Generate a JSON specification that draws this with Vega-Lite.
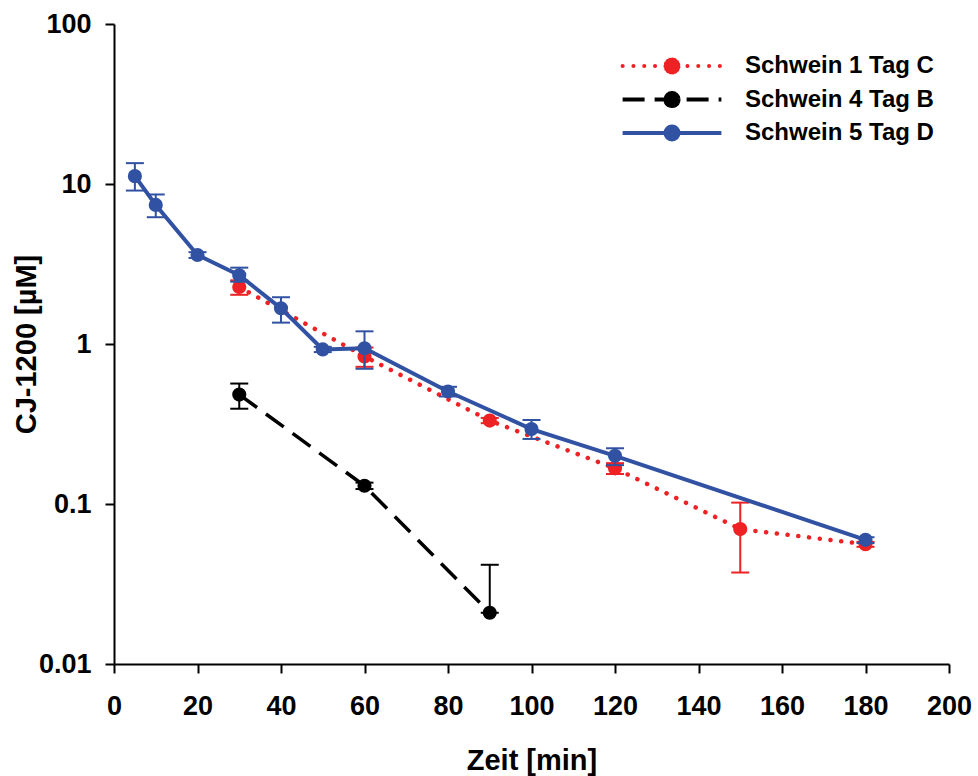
{
  "$schema": "https://vega.github.io/schema/vega-lite/v6.json",
  "width": 835,
  "height": 640,
  "autosize": {"type": "none"},
  "padding": {"left": 114, "top": 24, "right": 29, "bottom": 112},
  "background": "white",
  "config": {
    "view": {"stroke": null},
    "font": "Liberation Sans",
    "axis": {
      "grid": false,
      "domainColor": "black",
      "domainWidth": 2,
      "tickColor": "black",
      "tickWidth": 2,
      "tickSize": 9,
      "labelFlush": false,
      "labelFont": "Liberation Sans",
      "labelFontSize": 27,
      "labelFontWeight": "bold",
      "labelColor": "black",
      "titleFont": "Liberation Sans",
      "titleFontSize": 29,
      "titleFontWeight": "bold",
      "titleColor": "black"
    }
  },
  "data": {
    "values": [
      {"series": "Schwein 1 Tag C", "t": 30, "v": 2.27, "lo": 2.03, "hi": 2.5},
      {"series": "Schwein 1 Tag C", "t": 60, "v": 0.836, "lo": 0.72, "hi": 0.95},
      {"series": "Schwein 1 Tag C", "t": 90, "v": 0.332, "lo": 0.32, "hi": 0.345},
      {"series": "Schwein 1 Tag C", "t": 120, "v": 0.167, "lo": 0.154, "hi": 0.18},
      {"series": "Schwein 1 Tag C", "t": 150, "v": 0.0697, "lo": 0.0373, "hi": 0.102},
      {"series": "Schwein 1 Tag C", "t": 180, "v": 0.0561, "lo": 0.054, "hi": 0.058},
      {"series": "Schwein 4 Tag B", "t": 30, "v": 0.483, "lo": 0.394, "hi": 0.566},
      {"series": "Schwein 4 Tag B", "t": 60, "v": 0.13, "lo": 0.124, "hi": 0.136},
      {"series": "Schwein 4 Tag B", "t": 90, "v": 0.0209, "lo": 0.0209, "hi": 0.0417},
      {"series": "Schwein 5 Tag D", "t": 5, "v": 11.2, "lo": 9.1, "hi": 13.5},
      {"series": "Schwein 5 Tag D", "t": 10, "v": 7.4, "lo": 6.2, "hi": 8.6},
      {"series": "Schwein 5 Tag D", "t": 20, "v": 3.6, "lo": 3.45, "hi": 3.75},
      {"series": "Schwein 5 Tag D", "t": 30, "v": 2.69, "lo": 2.45, "hi": 3.0},
      {"series": "Schwein 5 Tag D", "t": 40, "v": 1.67, "lo": 1.36, "hi": 1.96},
      {"series": "Schwein 5 Tag D", "t": 50, "v": 0.925, "lo": 0.89, "hi": 0.96},
      {"series": "Schwein 5 Tag D", "t": 60, "v": 0.94, "lo": 0.7, "hi": 1.2},
      {"series": "Schwein 5 Tag D", "t": 80, "v": 0.505, "lo": 0.47, "hi": 0.54},
      {"series": "Schwein 5 Tag D", "t": 100, "v": 0.294, "lo": 0.255, "hi": 0.335},
      {"series": "Schwein 5 Tag D", "t": 120, "v": 0.2, "lo": 0.175, "hi": 0.223},
      {"series": "Schwein 5 Tag D", "t": 180, "v": 0.0597, "lo": 0.057, "hi": 0.062}
    ]
  },
  "encoding": {
    "x": {
      "field": "t",
      "type": "quantitative",
      "scale": {"domain": [0, 200], "nice": false},
      "axis": {
        "values": [0, 20, 40, 60, 80, 100, 120, 140, 160, 180, 200],
        "title": "Zeit [min]",
        "labelPadding": 20,
        "titlePadding": 27
      }
    },
    "color": {
      "field": "series",
      "type": "nominal",
      "scale": {
        "domain": ["Schwein 1 Tag C", "Schwein 4 Tag B", "Schwein 5 Tag D"],
        "range": ["#EE2224", "#000000", "#3152A3"]
      },
      "legend": {
        "orient": "none",
        "legendX": 546,
        "legendY": 30,
        "title": null,
        "padding": 0,
        "symbolType": "M-7.6,0L7.6,0M-1,0A1,1,0,1,1,1,0A1,1,0,1,1,-1,0A1,1,0,1,1,1,0A1,1,0,1,1,-1,0A1,1,0,1,1,1,0A1,1,0,1,1,-1,0A1,1,0,1,1,1,0A1,1,0,1,1,-1,0A1,1,0,1,1,1,0A1,1,0,1,1,-1,0A1,1,0,1,1,1,0A1,1,0,1,1,-1,0Z",
        "symbolSize": 169,
        "symbolStrokeWidth": 4,
        "labelFont": "Liberation Sans",
        "labelFontSize": 24,
        "labelFontWeight": "bold",
        "labelColor": "black",
        "labelLimit": 0,
        "labelOffset": 61,
        "rowPadding": 3.5,
        "encode": {
          "symbols": {
            "update": {
              "fill": {"scale": "color", "field": "value"},
              "stroke": {"scale": "color", "field": "value"},
              "opacity": {"value": 1},
              "fillOpacity": {"value": 1},
              "strokeOpacity": {"value": 1},
              "strokeDash": {"signal": "datum.value === 'Schwein 1 Tag C' ? [0.1, 10.7] : datum.value === 'Schwein 4 Tag B' ? [22, 10] : [2000, 1]"},
              "strokeCap": {"signal": "datum.value === 'Schwein 1 Tag C' ? 'round' : 'butt'"}
            }
          }
        }
      }
    }
  },
  "layer": [
    {
      "transform": [{"filter": "datum.series === 'Schwein 1 Tag C'"}],
      "mark": {"type": "line", "strokeWidth": 4.5, "strokeDash": [0.1, 10.7], "strokeCap": "round"},
      "encoding": {
        "y": {
          "field": "v",
          "type": "quantitative",
          "scale": {"type": "log", "domain": [0.01, 100], "nice": false},
          "axis": {
            "values": [0.01, 0.1, 1, 10, 100],
            "format": "~g",
            "title": "CJ-1200 [µM]",
            "labelPadding": 14,
            "titlePadding": -3
          }
        }
      }
    },
    {
      "transform": [{"filter": "datum.series === 'Schwein 1 Tag C'"}],
      "mark": {"type": "rule", "strokeWidth": 2},
      "encoding": {"y": {"field": "lo", "type": "quantitative"}, "y2": {"field": "hi"}}
    },
    {
      "transform": [{"filter": "datum.series === 'Schwein 1 Tag C'"}],
      "mark": {"type": "tick", "orient": "horizontal", "size": 18, "thickness": 2, "opacity": 1},
      "encoding": {"y": {"field": "lo", "type": "quantitative"}}
    },
    {
      "transform": [{"filter": "datum.series === 'Schwein 1 Tag C'"}],
      "mark": {"type": "tick", "orient": "horizontal", "size": 18, "thickness": 2, "opacity": 1},
      "encoding": {"y": {"field": "hi", "type": "quantitative"}}
    },
    {
      "transform": [{"filter": "datum.series === 'Schwein 1 Tag C'"}],
      "mark": {"type": "point", "filled": true, "size": 200, "opacity": 1, "shape": "circle"},
      "encoding": {"y": {"field": "v", "type": "quantitative"}}
    },
    {
      "transform": [{"filter": "datum.series === 'Schwein 4 Tag B'"}],
      "mark": {"type": "line", "strokeWidth": 3.5, "strokeDash": [22, 11]},
      "encoding": {"y": {"field": "v", "type": "quantitative"}}
    },
    {
      "transform": [{"filter": "datum.series === 'Schwein 4 Tag B'"}],
      "mark": {"type": "rule", "strokeWidth": 2},
      "encoding": {"y": {"field": "lo", "type": "quantitative"}, "y2": {"field": "hi"}}
    },
    {
      "transform": [{"filter": "datum.series === 'Schwein 4 Tag B'"}],
      "mark": {"type": "tick", "orient": "horizontal", "size": 18, "thickness": 2, "opacity": 1},
      "encoding": {"y": {"field": "lo", "type": "quantitative"}}
    },
    {
      "transform": [{"filter": "datum.series === 'Schwein 4 Tag B'"}],
      "mark": {"type": "tick", "orient": "horizontal", "size": 18, "thickness": 2, "opacity": 1},
      "encoding": {"y": {"field": "hi", "type": "quantitative"}}
    },
    {
      "transform": [{"filter": "datum.series === 'Schwein 4 Tag B'"}],
      "mark": {"type": "point", "filled": true, "size": 200, "opacity": 1, "shape": "circle"},
      "encoding": {"y": {"field": "v", "type": "quantitative"}}
    },
    {
      "transform": [{"filter": "datum.series === 'Schwein 5 Tag D'"}],
      "mark": {"type": "line", "strokeWidth": 4},
      "encoding": {"y": {"field": "v", "type": "quantitative"}}
    },
    {
      "transform": [{"filter": "datum.series === 'Schwein 5 Tag D'"}],
      "mark": {"type": "rule", "strokeWidth": 2},
      "encoding": {"y": {"field": "lo", "type": "quantitative"}, "y2": {"field": "hi"}}
    },
    {
      "transform": [{"filter": "datum.series === 'Schwein 5 Tag D'"}],
      "mark": {"type": "tick", "orient": "horizontal", "size": 18, "thickness": 2, "opacity": 1},
      "encoding": {"y": {"field": "lo", "type": "quantitative"}}
    },
    {
      "transform": [{"filter": "datum.series === 'Schwein 5 Tag D'"}],
      "mark": {"type": "tick", "orient": "horizontal", "size": 18, "thickness": 2, "opacity": 1},
      "encoding": {"y": {"field": "hi", "type": "quantitative"}}
    },
    {
      "transform": [{"filter": "datum.series === 'Schwein 5 Tag D'"}],
      "mark": {"type": "point", "filled": true, "size": 200, "opacity": 1, "shape": "circle"},
      "encoding": {"y": {"field": "v", "type": "quantitative"}}
    }
  ]
}
